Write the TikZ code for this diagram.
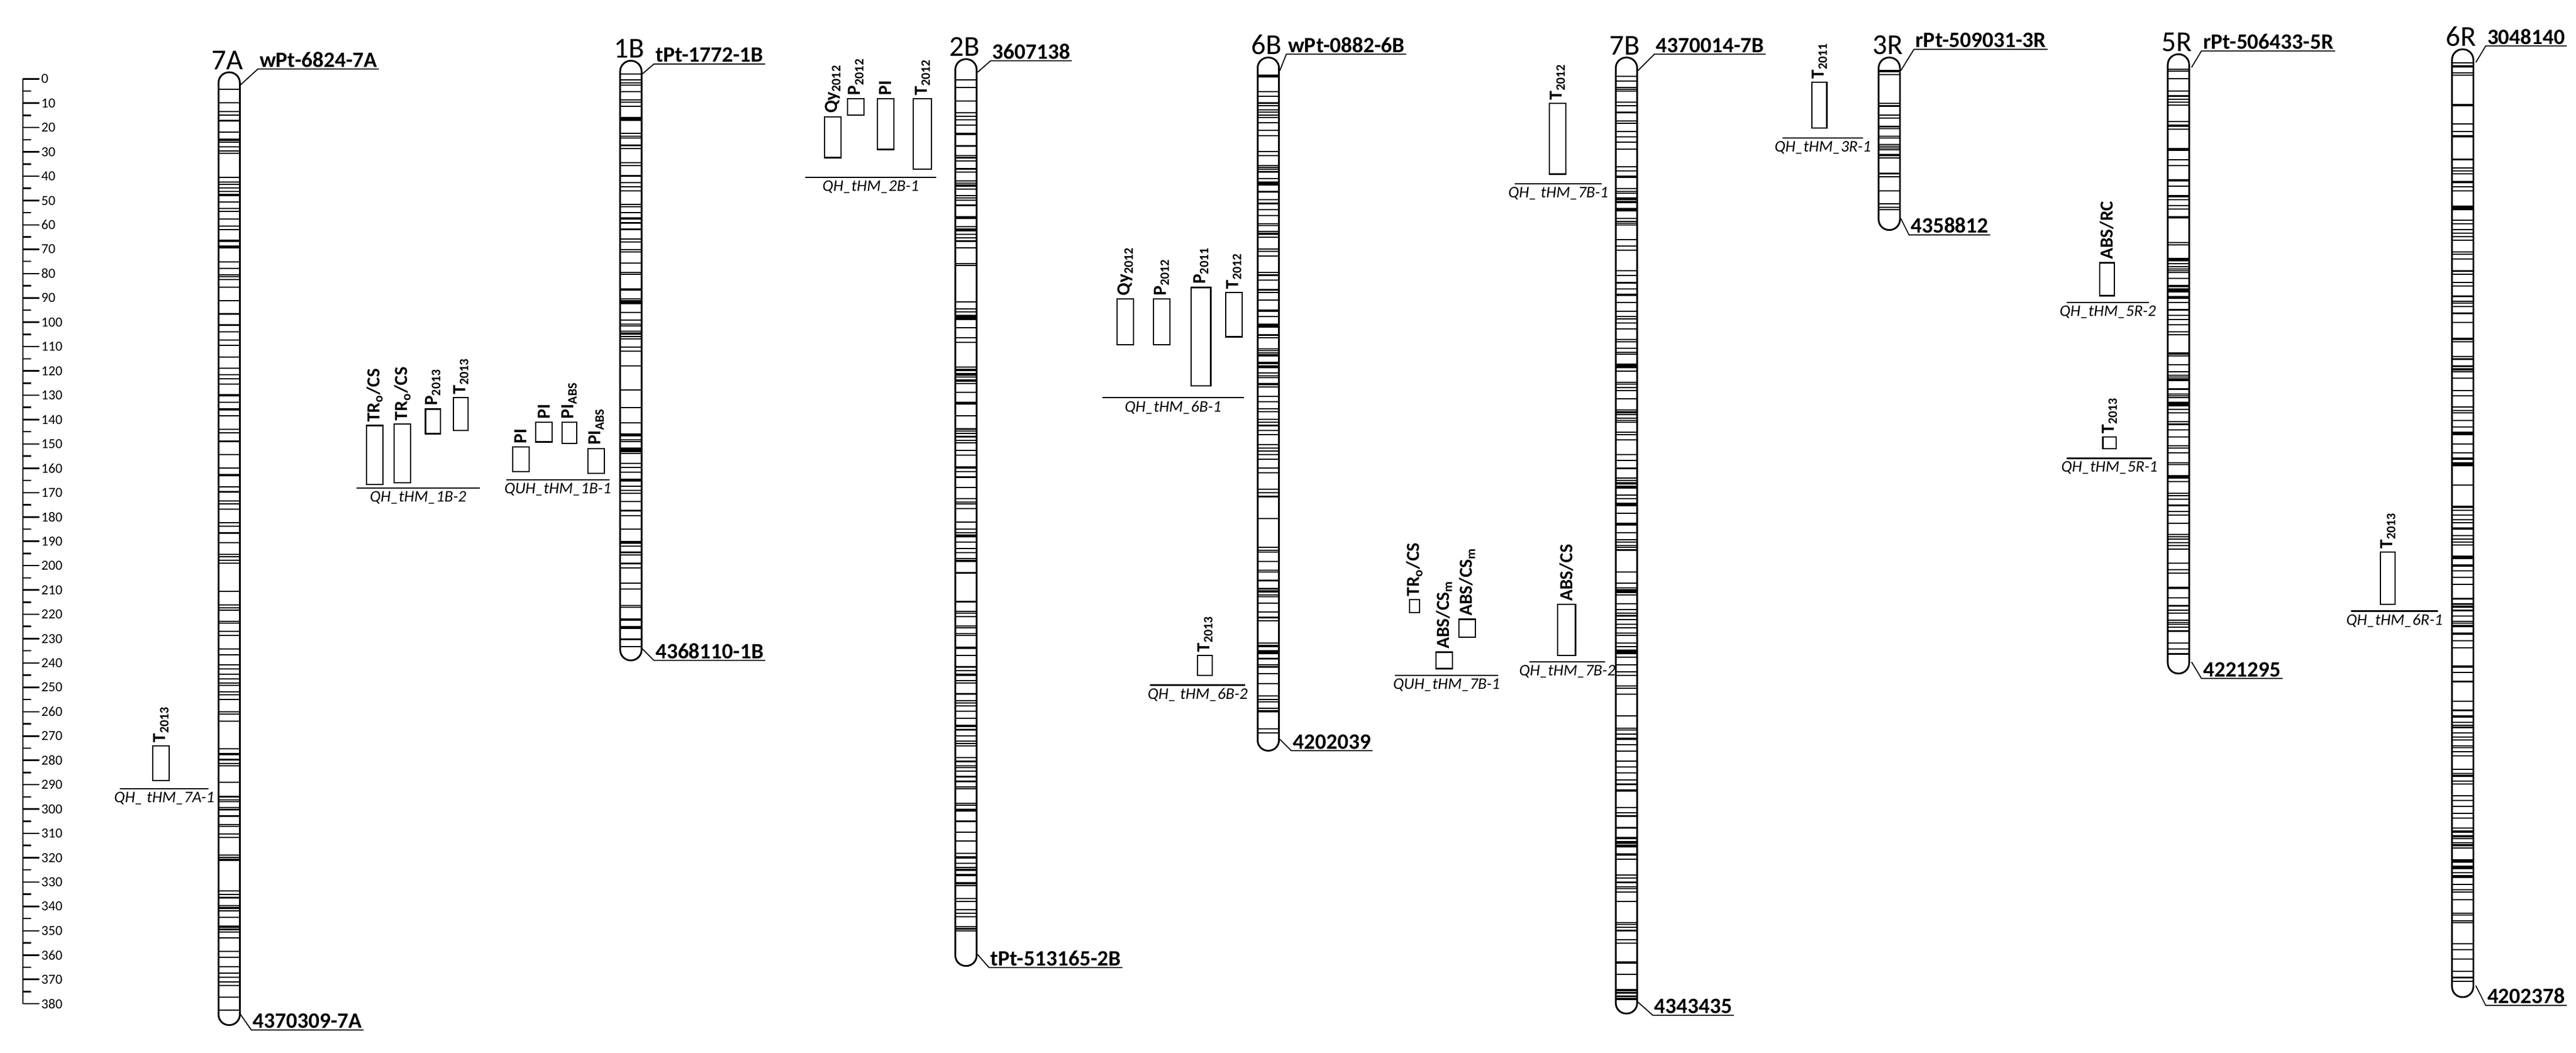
\documentclass[tikz,border=0pt]{standalone}
\usepackage{fontspec}
\setmainfont{Carlito}
\begin{document}
\begin{tikzpicture}[x=0.5mm,y=-0.5mm,line width=0.9pt,
  chr/.style={draw,line width=1.5pt,rounded corners=3.2mm,inner sep=0pt},
  band/.style={line width=1.05pt},
  chrlab/.style={font=\fontsize{25}{27}\selectfont,inner sep=2pt},
  mklab/.style={font=\bfseries\fontsize{19}{21}\selectfont,inner sep=1pt,anchor=south west},
  qlab/.style={font=\bfseries\fontsize{16}{18}\selectfont,rotate=90,anchor=west,inner sep=1pt},
  linelab/.style={font=\itshape\fontsize{14}{16}\selectfont,inner sep=1pt,anchor=north},
  rul/.style={font=\fontsize{12}{13}\selectfont,anchor=west,inner sep=1pt}]
\useasboundingbox (0,0) rectangle (1568,641);
% ruler
\draw[line width=1.3pt] (14,48) -- (14,611);
\foreach \v in {0,10,...,380}{\draw[line width=1.3pt] (14,{48+1.4816*\v}) -- (24,{48+1.4816*\v}) node[rul] {\v};}
\foreach \v in {5,15,...,375}{\draw[line width=1.3pt] (14,{48+1.4816*\v}) -- (19,{48+1.4816*\v});}
\pgfmathsetseed{7}
\newcommand\chromo[6]{%
  \foreach \k in {1,...,#5}{\pgfmathsetmacro\yy{#3+8+rnd*(#4-#3-16)}\draw[band] (#2-6.5,\yy) -- (#2+6.5,\yy);}
  \node[chr,minimum width=6.5mm,minimum height={(#4-#3)*0.5mm}] (#1) at (#2,{(#3+#4)/2}) {};
  \node[chrlab,anchor=south] (#1lab) at (#2-1,#3) {#6};}
\newcommand\mk[5]{% name, chrom x right, y attach, label x, label y
  \node[mklab] (#1) at (#4,#5) {#1};
  \coordinate (#1att) at (#2,#3);
  \draw (#1att) -- (#1.south west) -- (#1.south east);}
\newcommand\qtl[5]{%
  \draw[line width=1.1pt] (#1,#2) rectangle (#3,#4);
  \node[qlab] at ({(#1+#3)/2},#2-1) {#5};}
\newcommand\qline[5]{% name,x1,x2,y,text
  \coordinate (#1a) at (#2,#4); \coordinate (#1b) at (#3,#4);
  \draw[line width=1.1pt] (#1a) -- (#1b);
  \node[linelab] (#1) at ({(#2+#3)/2},#4+1) {#5};}
% chromosomes
\chromo{c7A}{139.5}{44}{624}{150}{7A}
\chromo{c1B}{384}{37}{402}{110}{1B}
\chromo{c2B}{588}{36}{588}{180}{2B}
\chromo{c6B}{772}{35}{457}{150}{6B}
\chromo{c7B}{990}{35}{617}{200}{7B}
\chromo{c3R}{1150}{35}{140}{30}{3R}
\chromo{c5R}{1326}{33}{410}{130}{5R}
\chromo{c6R}{1499}{30}{607}{180}{6R}
% markers
\mk{wPt-6824-7A}{146}{52}{157}{42}
\mk{4370309-7A}{146}{617}{153}{627}
\mk{tPt-1772-1B}{391}{45}{398}{39}
\mk{4368110-1B}{391}{395}{398}{402}
\mk{3607138}{595}{44}{603}{37}
\mk{tPt-513165-2B}{595}{581}{602}{589}
\mk{wPt-0882-6B}{779}{43}{783}{33}
\mk{4202039}{779}{450}{786}{457}
\mk{4370014-7B}{997}{43}{1007}{33}
\mk{4343435}{997}{610}{1006}{618}
\mk{rPt-509031-3R}{1157}{43}{1165}{30}
\mk{4358812}{1157}{133}{1162}{143}
\mk{rPt-506433-5R}{1334}{41}{1340}{31}
\mk{4221295}{1334}{403}{1340}{413}
\mk{3048140}{1507}{38}{1513}{28}
\mk{4202378}{1507}{600}{1513}{612}
% QTLs
\qtl{93}{454}{103}{475}{T\textsubscript{2013}}
\qline{q7A1}{73}{127}{480}{QH\_ tHM\_7A-1}
\qtl{223}{259}{233}{295}{TR\textsubscript{o}/CS}
\qtl{240}{258}{250}{294}{TR\textsubscript{o}/CS}
\qtl{259}{249}{268}{264}{P\textsubscript{2013}}
\qtl{276}{242}{285}{262}{T\textsubscript{2013}}
\qline{q1B2}{217}{292}{297}{QH\_tHM\_1B-2}
\qtl{312}{272}{322}{287}{PI}
\qtl{326}{257}{336}{269}{PI}
\qtl{342}{257}{351}{270}{PI\textsubscript{ABS}}
\qtl{358}{273}{368}{288}{PI\textsubscript{ABS}}
\qline{q1B1}{308}{371}{292}{QUH\_tHM\_1B-1}
\qtl{502}{71}{512}{96}{Qy\textsubscript{2012}}
\qtl{516}{60}{526}{70}{P\textsubscript{2012}}
\qtl{534}{60}{544}{91}{PI}
\qtl{556}{60}{567}{103}{T\textsubscript{2012}}
\qline{q2B1}{490}{570}{108}{QH\_tHM\_2B-1}
\qtl{680}{182}{690}{210}{Qy\textsubscript{2012}}
\qtl{702}{182}{712}{210}{P\textsubscript{2012}}
\qtl{725}{175}{737}{235}{P\textsubscript{2011}}
\qtl{746}{178}{756}{205}{T\textsubscript{2012}}
\qline{q6B1}{671}{757}{242}{QH\_tHM\_6B-1}
\qtl{729}{399}{738}{411}{T\textsubscript{2013}}
\qline{q6B2}{700}{758}{417}{QH\_ tHM\_6B-2}
\qtl{858}{365}{864}{373}{TR\textsubscript{o}/CS}
\qtl{874}{397}{884}{407}{ABS/CS\textsubscript{m}}
\qtl{888}{377}{898}{388}{ABS/CS\textsubscript{m}}
\qline{q7B1}{849}{912}{411}{QUH\_tHM\_7B-1}
\qtl{948}{368}{959}{399}{ABS/CS}
\qline{q7B2}{931}{977}{403}{QH\_tHM\_7B-2}
\qtl{943}{63}{953}{106}{T\textsubscript{2012}}
\qline{q7B1b}{922}{975}{112}{QH\_ tHM\_7B-1}
\qtl{1103}{50}{1112}{78}{T\textsubscript{2011}}
\qline{q3R1}{1085}{1134}{84}{QH\_tHM\_3R-1}
\qtl{1278}{160}{1287}{180}{ABS/RC}
\qline{q5R2}{1258}{1308}{184}{QH\_tHM\_5R-2}
\qtl{1280}{266}{1288}{273}{T\textsubscript{2013}}
\qline{q5R1}{1258}{1310}{279}{QH\_tHM\_5R-1}
\qtl{1449}{336}{1458}{368}{T\textsubscript{2013}}
\qline{q6R1}{1431}{1484}{372}{QH\_tHM\_6R-1}
\end{tikzpicture}
\end{document}
